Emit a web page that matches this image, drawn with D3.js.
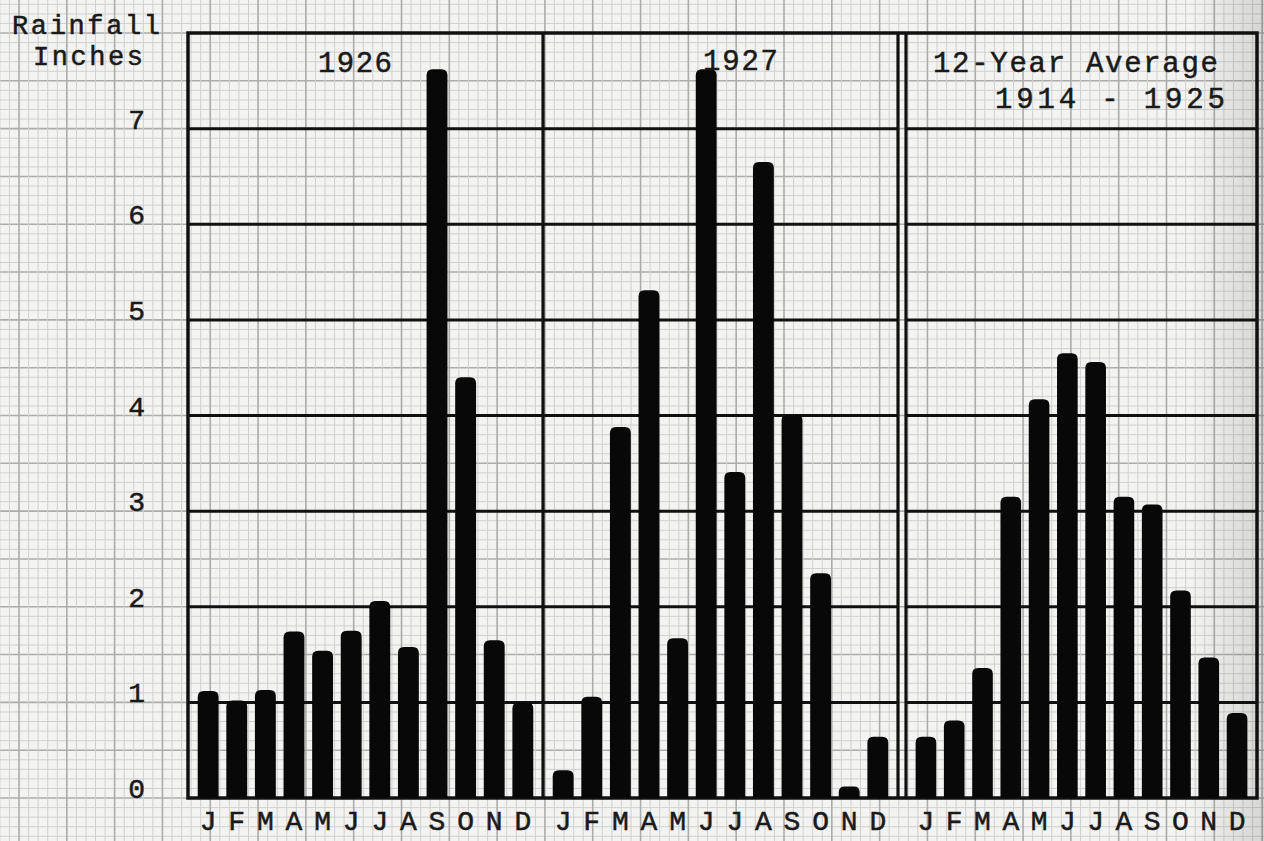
<!DOCTYPE html>
<html>
<head>
<meta charset="utf-8">
<script src="https://cdn.jsdelivr.net/npm/d3@7"></script>
<style>
  body { margin: 0; background: #f3f3f1; }
  text { font-family: 'Liberation Mono', 'DejaVu Sans Mono', monospace; fill: #1a1a1a; stroke: #1a1a1a; stroke-width: 0.5; }
</style>
</head>
<body>
<div id="chart"></div>
<script>
let months = ['J', 'F', 'M', 'A', 'M', 'J', 'J', 'A', 'S', 'O', 'N', 'D']
let yTicks = [0, 1, 2, 3, 4, 5, 6, 7]

let rain1926 = [1.12, 1.02, 1.13, 1.74, 1.54, 1.75, 2.06, 1.58, 7.62, 4.40, 1.65, 1.00]
let rain1927 = [0.29, 1.06, 3.88, 5.31, 1.67, 7.62, 3.41, 6.65, 4.01, 2.35, 0.12, 0.64]
let rainAverage = [0.64, 0.81, 1.36, 3.15, 4.17, 4.65, 4.56, 3.15, 3.07, 2.17, 1.47, 0.89]

let panels = [
  { title: ['1926'], values: rain1926, x0: 188, x1: 543, titleX: [318], titleY: [72], titleW: [74] },
  { title: ['1927'], values: rain1927, x0: 543, x1: 898, titleX: [703], titleY: [70], titleW: [75] },
  { title: ['12-Year Average', '1914 - 1925'], values: rainAverage, x0: 906, x1: 1257,
    titleX: [933, 995], titleY: [72, 108], titleW: [285, 230] }
]

let width = 1264
let height = 841

let svg = d3.select('#chart')
  .append('svg')
  .attr('width', width)
  .attr('height', height)
  .style('display', 'block')

let y = d3.scaleLinear().domain([0, 8]).range([798, 33])
let unit = y(0) - y(1)

// graph paper: same ruling both ways, majors every half inch of rain
let xPaper = d3.scaleLinear().domain([0, 1]).range([19, 19 + unit])

svg.append('rect')
  .attr('width', width).attr('height', height)
  .attr('fill', '#f3f3f1')

let paper = svg.append('g').attr('class', 'paper')

let hVals = d3.range(-5, 86).map(i => i / 10)
let vVals = d3.range(-2, 131).map(i => i / 10)

let isMajor = d => Math.round(d * 10) % 5 === 0

paper.selectAll('.hgrid')
  .data(hVals)
  .enter().append('line')
  .attr('x1', 0).attr('x2', width)
  .attr('y1', d => y(d)).attr('y2', d => y(d))
  .attr('stroke', d => isMajor(d) ? '#acacac' : '#d0d0d0')
  .attr('stroke-width', d => isMajor(d) ? 1.6 : 1)

paper.selectAll('.vgrid')
  .data(vVals)
  .enter().append('line')
  .attr('y1', 0).attr('y2', height)
  .attr('x1', d => xPaper(d)).attr('x2', d => xPaper(d))
  .attr('stroke', d => isMajor(d) ? '#acacac' : '#d0d0d0')
  .attr('stroke-width', d => isMajor(d) ? 1.6 : 1)

// darker paper edge on the right
let defs = svg.append('defs')
let grad = defs.append('linearGradient').attr('id', 'edge')
grad.append('stop').attr('offset', '0%').attr('stop-color', '#000').attr('stop-opacity', 0)
grad.append('stop').attr('offset', '100%').attr('stop-color', '#000').attr('stop-opacity', 0.12)
svg.append('rect')
  .attr('x', 1190).attr('y', 0).attr('width', 74).attr('height', height)
  .attr('fill', 'url(#edge)')

// rounded-top bar
function barPath(x, top, w, bottom) {
  let r = Math.min(6, (bottom - top) / 2)
  return 'M' + x + ',' + bottom +
    'L' + x + ',' + (top + r) +
    'Q' + x + ',' + top + ' ' + (x + r) + ',' + top +
    'L' + (x + w - r) + ',' + top +
    'Q' + (x + w) + ',' + top + ' ' + (x + w) + ',' + (top + r) +
    'L' + (x + w) + ',' + bottom + 'Z'
}

let frame = svg.append('g').attr('class', 'frame')
let bars = svg.append('g').attr('class', 'bars')
let labels = svg.append('g').attr('class', 'labels')

panels.forEach(p => {
  // heavy rules at each inch
  frame.selectAll(null)
    .data(yTicks.filter(d => d > 0))
    .enter().append('line')
    .attr('x1', p.x0).attr('x2', p.x1)
    .attr('y1', d => y(d)).attr('y2', d => y(d))
    .attr('stroke', '#111')
    .attr('stroke-width', 3)

  let x = d3.scaleBand()
    .domain(d3.range(12))
    .range([p.x0, p.x1])
    .paddingInner(0.27)
    .paddingOuter(0.34)

  bars.append('g')
    .selectAll('path')
    .data(p.values)
    .enter().append('path')
    .attr('d', (d, i) => barPath(x(i), y(d), x.bandwidth(), y(0)))
    .attr('fill', '#080808')

  labels.append('g')
    .selectAll('text')
    .data(months)
    .enter().append('text')
    .attr('x', (d, i) => x(i) + x.bandwidth() / 2)
    .attr('y', 830)
    .attr('text-anchor', 'middle')
    .attr('font-size', 28)
    .text(d => d)

  p.title.forEach((t, i) => {
    labels.append('text')
      .attr('x', p.titleX[i])
      .attr('y', p.titleY[i])
      .attr('font-size', 29)
      .attr('textLength', p.titleW[i])
      .attr('lengthAdjust', 'spacing')
      .text(t)
  })
})

// outer frame and dividers
frame.append('rect')
  .attr('x', 188).attr('y', y(8))
  .attr('width', 1257 - 188).attr('height', y(0) - y(8))
  .attr('fill', 'none')
  .attr('stroke', '#111')
  .attr('stroke-width', 3.5)

let dividers = [543, 898, 906]
frame.selectAll('.divider')
  .data(dividers)
  .enter().append('line')
  .attr('x1', d => d).attr('x2', d => d)
  .attr('y1', y(8)).attr('y2', y(0))
  .attr('stroke', '#111')
  .attr('stroke-width', 3.2)

// y axis labels
labels.append('g')
  .selectAll('text')
  .data(yTicks)
  .enter().append('text')
  .attr('x', 145)
  .attr('y', d => y(d))
  .attr('text-anchor', 'end')
  .attr('font-size', 28)
  .text(d => d)

labels.append('text')
  .attr('x', 12).attr('y', 34)
  .attr('font-size', 27)
  .attr('textLength', 148)
  .attr('lengthAdjust', 'spacing')
  .text('Rainfall')

labels.append('text')
  .attr('x', 33).attr('y', 65)
  .attr('font-size', 27)
  .attr('textLength', 110)
  .attr('lengthAdjust', 'spacing')
  .text('Inches')
</script>
</body>
</html>
